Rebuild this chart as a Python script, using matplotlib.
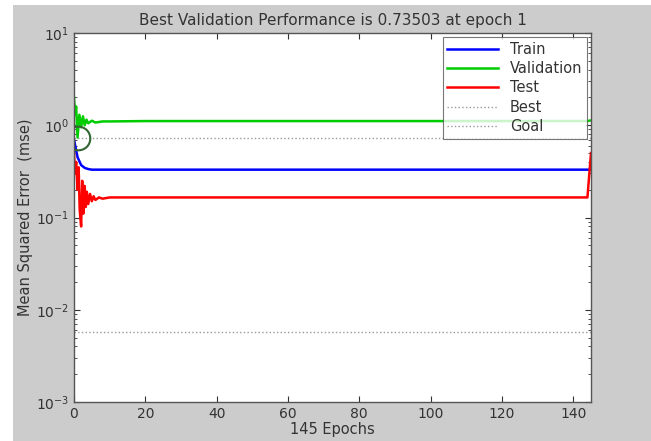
import matplotlib
matplotlib.use("Agg")
import matplotlib.pyplot as plt
from matplotlib.patches import Rectangle
from matplotlib.ticker import LogLocator, NullFormatter

plt.rcParams['font.family'] = ['DejaVu Sans']
plt.rcParams['mathtext.fontset'] = 'dejavusans'

# ---- data ----
train_epochs = [0, 1, 2, 3, 4, 5, 6, 8, 10, 145]
train_vals = [0.70, 0.45, 0.37, 0.345, 0.335, 0.33, 0.33, 0.33, 0.33, 0.33]

val_epochs = [0, 0.3, 0.6, 1, 1.5, 2, 2.5, 3, 3.5, 4, 5, 6, 8, 10, 20, 144, 145]
val_vals = [2.0, 1.3, 1.6, 0.735, 1.3, 0.95, 1.25, 1.0, 1.15, 1.05, 1.12, 1.07, 1.1, 1.1, 1.11, 1.11, 1.13]

test_epochs = [0, 0.3, 0.6, 1, 1.3, 1.6, 2, 2.3, 2.6, 3, 3.3, 3.6, 4, 4.5, 5, 5.5, 6, 7, 8, 10, 20, 144, 145]
test_vals = [0.50, 0.30, 0.40, 0.20, 0.35, 0.12, 0.08, 0.25, 0.11, 0.22, 0.13, 0.19, 0.14, 0.18, 0.15, 0.17, 0.155, 0.165, 0.16, 0.165, 0.165, 0.165, 0.50]

best_epoch = 1
best_perf = 0.73503
goal = 0.0058
n_epochs = 145

x_ticks = [0, 20, 40, 60, 80, 100, 120, 140]

# ---- figure ----
fig = plt.figure(figsize=(6.51, 4.41), dpi=100, facecolor='white')
fig.patches.append(Rectangle((13/651, 0), 1 - 13/651, 1 - 5/441,
                             transform=fig.transFigure, facecolor='#cccccc',
                             edgecolor='none', zorder=-10))

ax = fig.add_axes([74/651, 1 - 402/441, (591 - 74)/651, (402 - 33)/441])
ax.set_facecolor('white')

ax.semilogy(train_epochs, train_vals, color='#0000ff', lw=1.8, label='Train')
ax.semilogy(val_epochs, val_vals, color='#00cc00', lw=1.8, label='Validation')
ax.semilogy(test_epochs, test_vals, color='#ff0000', lw=1.8, label='Test')
ax.axhline(best_perf, color='#999999', lw=1, ls=':', label='Best')
ax.axhline(goal, color='#999999', lw=1, ls=':', label='Goal')
ax.plot([best_epoch], [best_perf], marker='o', markersize=17, markerfacecolor='none',
        markeredgecolor='#336633', markeredgewidth=1.5, linestyle='none')

ax.set_xlim(0, n_epochs)
ax.set_ylim(1e-3, 1e1)
ax.set_xticks(x_ticks)
ax.yaxis.set_major_locator(LogLocator(base=10, numticks=10))
ax.yaxis.set_minor_locator(LogLocator(base=10, subs=range(2, 10), numticks=20))
ax.yaxis.set_minor_formatter(NullFormatter())
ax.tick_params(which='both', direction='in', top=True, right=True, labelsize=10,
               colors='#333333', labelcolor='#333333')
ax.tick_params(which='major', length=4)
ax.tick_params(which='minor', length=2)
for s in ax.spines.values():
    s.set_color('#555555')
    s.set_linewidth(1.0)

ax.set_title('Best Validation Performance is 0.73503 at epoch 1', fontsize=11, color='#333333', pad=6)
ax.set_xlabel('145 Epochs', fontsize=10.5, color='#333333', labelpad=1)
ax.set_ylabel('Mean Squared Error  (mse)', fontsize=10.5, color='#333333', labelpad=2)

leg = ax.legend(loc='upper right', fontsize=10.5, frameon=True, fancybox=False,
                borderaxespad=0.3, handlelength=3.5, labelspacing=0.3, borderpad=0.3)
leg.get_frame().set_edgecolor('#555555')
leg.get_frame().set_linewidth(0.8)
for t in leg.get_texts():
    t.set_color('#333333')

fig.savefig('out.png', dpi=100, facecolor=fig.get_facecolor())
